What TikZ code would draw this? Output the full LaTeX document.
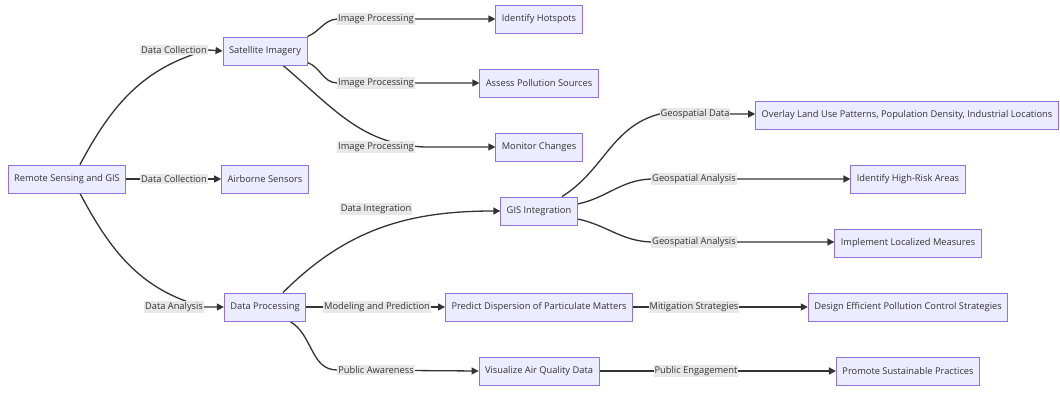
\documentclass[tikz,border=0pt]{standalone}
\usepackage{fontspec}
\setmainfont{Open Sans}
\usetikzlibrary{arrows.meta,backgrounds}
\definecolor{boxfill}{HTML}{ECECFF}
\definecolor{boxline}{HTML}{9370DB}
\definecolor{edgeline}{HTML}{333333}
\definecolor{lblfill}{HTML}{E8E8E8}

\begin{document}
\begin{tikzpicture}[
        x=1pt, y=1pt,
        box/.style={draw=boxline, fill=boxfill, line width=.9pt, minimum height=28pt,
            inner xsep=6pt, font=\fontsize{9.3}{11}\selectfont, text=black!80},
        lbl/.style={fill=lblfill, inner xsep=1pt, inner ysep=1.5pt,
            font=\fontsize{9.3}{11}\selectfont, text=black!80},
        link/.style={draw=edgeline, line width=1.3pt, -{Triangle[length=7pt, width=7pt]}},
    ]
    \useasboundingbox (0,0) rectangle (1060,394);

    %% boxes
    \node[box] (rs) at (67,215) {Remote Sensing and GIS};
    \node[box] (sat) at (265,343) {Satellite Imagery};
    \node[box] (air) at (265,215) {Airborne Sensors};
    \node[box] (dp) at (265,87) {Data Processing};
    \node[box] (hot) at (539,375) {Identify Hotspots};
    \node[box] (src) at (539,311) {Assess Pollution Sources};
    \node[box] (mon) at (539,247) {Monitor Changes};
    \node[box] (gis) at (539,183) {GIS Integration};
    \node[box] (pred) at (539,87) {Predict Dispersion of Particulate Matters};
    \node[box] (vis) at (539,23) {Visualize Air Quality Data};
    \node[box] (ovl) at (907,279) {Overlay Land Use Patterns, Population Density, Industrial Locations};
    \node[box] (risk) at (908,215) {Identify High-Risk Areas};
    \node[box] (meas) at (908,151) {Implement Localized Measures};
    \node[box] (dsgn) at (908,87) {Design Efficient Pollution Control Strategies};
    \node[box] (prom) at (908,23) {Promote Sustainable Practices};

    %% edge labels
    \node[lbl] (lsat) at (174,344) {Data Collection};
    \node[lbl] (lair) at (174,215) {Data Collection};
    \node[lbl] (ldp) at (174,87) {Data Analysis};
    \node[lbl] (lhot) at (376,375) {Image Processing};
    \node[lbl] (lsrc) at (376,311) {Image Processing};
    \node[lbl] (lmon) at (376,247) {Image Processing};
    \node[lbl] (lgis) at (376,185) {Data Integration};
    \node[lbl] (lpred) at (377,87) {Modeling and Prediction};
    \node[lbl] (lvis) at (376,24) {Public Awareness};
    \node[lbl] (lovl) at (695,280) {Geospatial Data};
    \node[lbl] (lrisk) at (694,215) {Geospatial Analysis};
    \node[lbl] (lmeas) at (694,152) {Geospatial Analysis};
    \node[lbl] (ldsgn) at (694,87) {Mitigation Strategies};
    \node[lbl] (lprom) at (696,23) {Public Engagement};

    %% connectors go under the labels
    \begin{pgfonlayer}{background}
        \draw[link] ([xshift=13pt]rs.north) to[out=62, in=195] (lsat.east) -- (sat.west);
        \draw[link] (rs.east) -- (air.west);
        \draw[link] ([xshift=13pt]rs.south) to[out=-62, in=165] (ldp.east) -- (ldp.east -| dp.west);

        \draw[link] (sat.north east) to[out=22, in=185] (lhot.west) -- (lhot.west -| hot.west);
        \draw[link] ([yshift=3pt]sat.south east) to[out=-20, in=178] (lsrc.west) -- (lsrc.west -| src.west);
        \draw[link] ([xshift=18pt]sat.south) to[out=-40, in=178] ([xshift=10pt]lmon.east) -- (mon.west);

        \draw[link] ([xshift=18pt]dp.north) to[out=45, in=180] (gis.west);
        \draw[link] (dp.east) -- (pred.west);
        \draw[link] ([xshift=25pt]dp.south) to[out=-30, in=180] (lvis.west) -- (vis.west);

        \draw[link] ([xshift=23pt]gis.north) to[out=32, in=195] (lovl.west) -- (lovl.west -| ovl.west);
        \draw[link] ([yshift=7pt]gis.east) to[out=12, in=182] (lrisk.west) -- (risk.west);
        \draw[link] ([yshift=-8pt]gis.east) to[out=-12, in=178] (lmeas.west) -- (lmeas.west -| meas.west);
        \draw[link] (pred.east) -- (dsgn.west);
        \draw[link] (vis.east) -- (prom.west);
    \end{pgfonlayer}
\end{tikzpicture}
\end{document}
